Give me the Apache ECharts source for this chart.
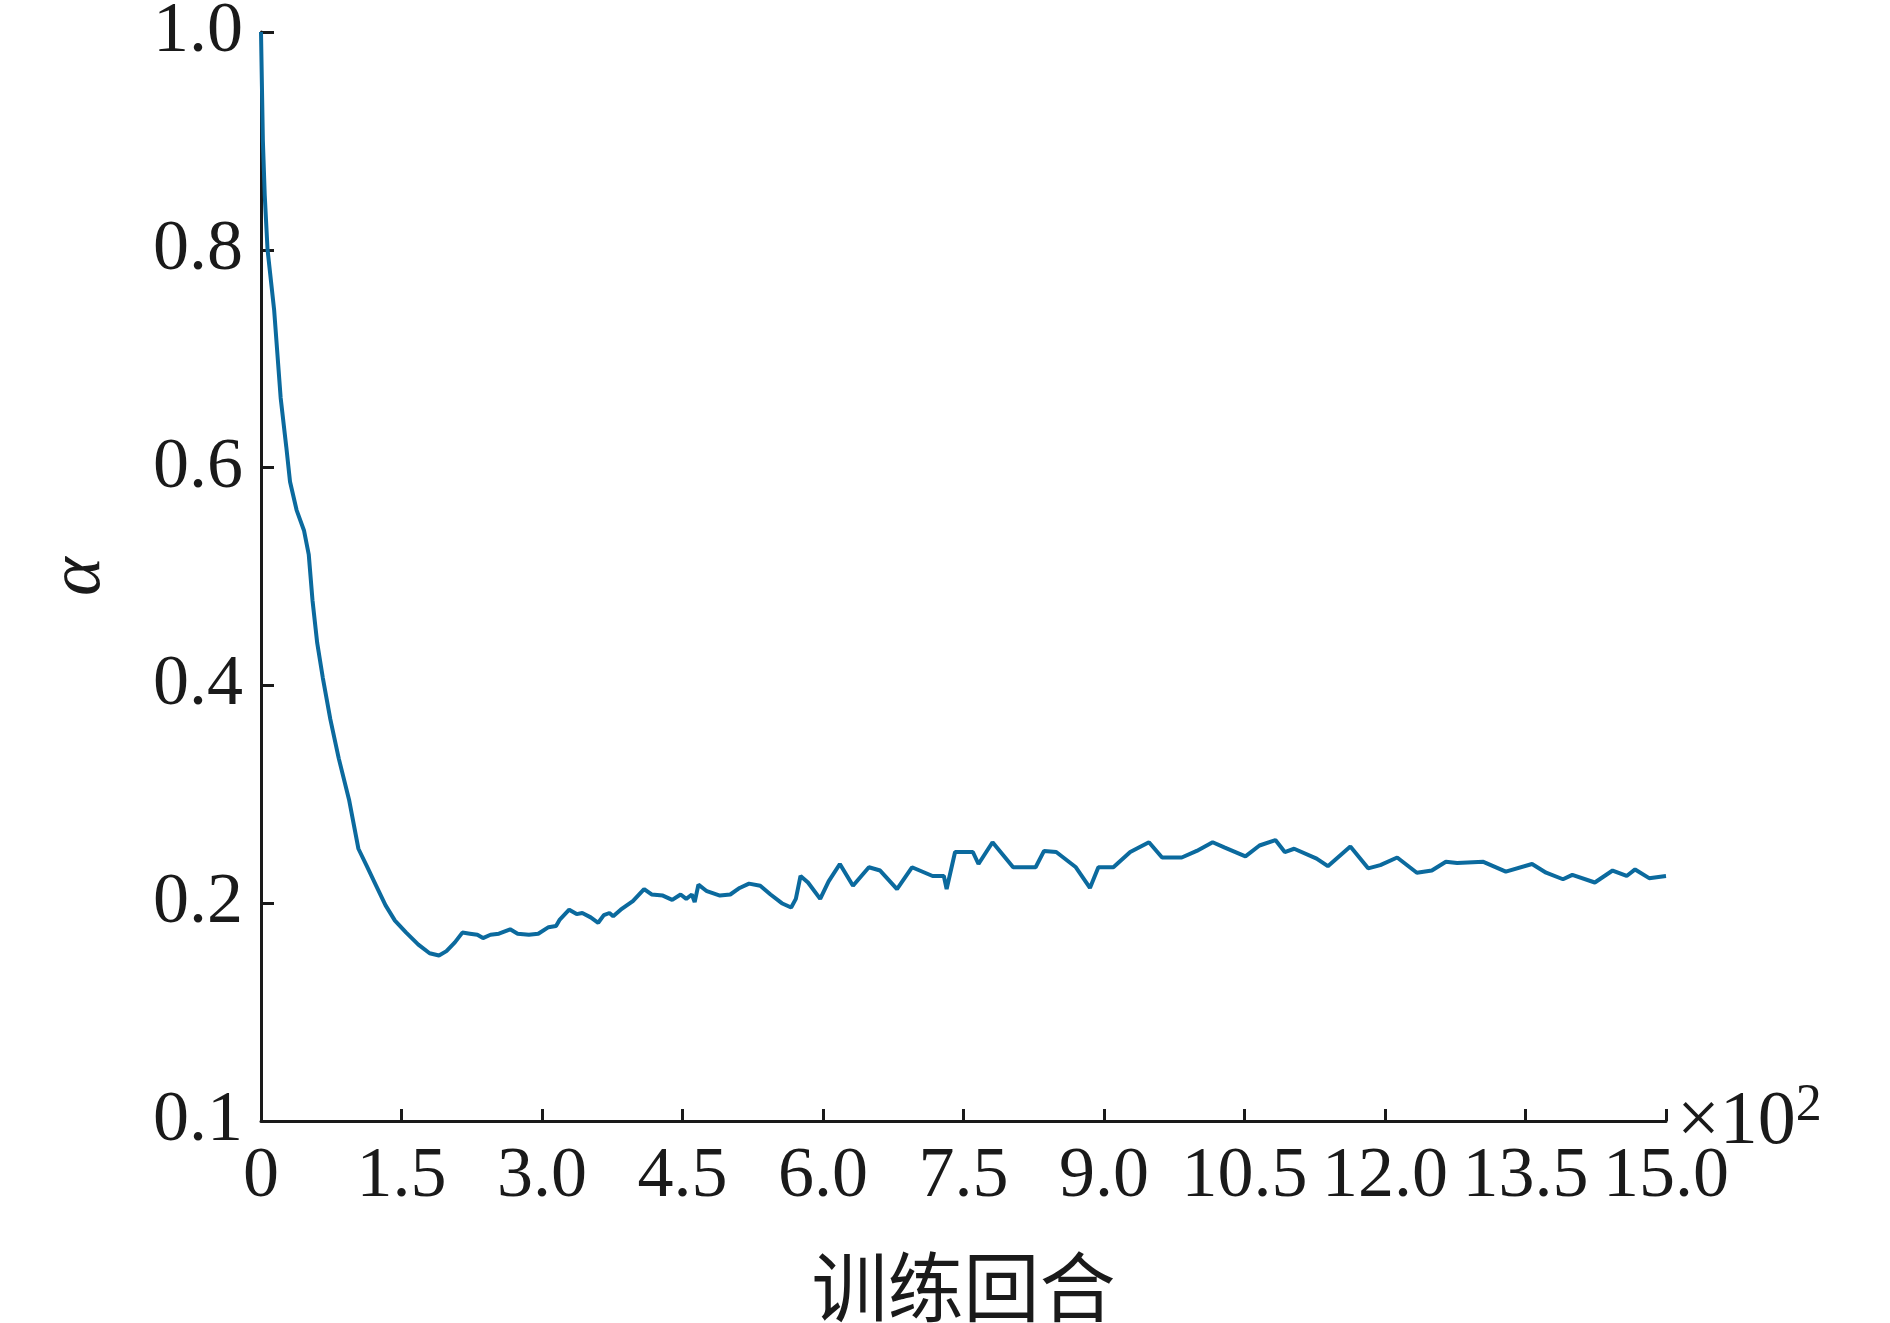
<!DOCTYPE html>
<html>
<head>
<meta charset="utf-8">
<script src="https://cdn.jsdelivr.net/npm/echarts@6/dist/echarts.min.js"></script>
<style>html,body{margin:0;padding:0;background:#fff;}#c{width:1890px;height:1323px;}</style>
</head>
<body>
<div id="c"></div>
<script>
// training episodes (×10^2)
const episodes = [0,0.01,0.02,0.04,0.07,0.14,0.21,0.27,0.31,0.38,0.46,0.51,0.55,0.60,0.66,0.74,0.83,0.94,
1.04,1.13,1.23,1.33,1.43,1.55,1.68,1.80,1.90,1.98,2.07,2.15,2.23,2.31,2.37,2.45,2.54,2.66,2.74,2.86,2.96,
3.07,3.15,3.19,3.29,3.37,3.43,3.52,3.60,3.66,3.72,3.76,3.84,3.97,4.09,4.17,4.29,4.39,4.48,4.54,4.60,4.63,4.67,
4.76,4.90,5.01,5.11,5.21,5.33,5.44,5.56,5.66,5.71,5.76,5.84,5.97,6.06,6.18,6.32,6.49,6.61,6.79,6.95,7.17,7.29,7.32,
7.41,7.60,7.66,7.81,8.03,8.27,8.36,8.49,8.70,8.85,8.94,9.10,9.28,9.48,9.62,9.83,9.99,10.16,10.29,10.51,10.66,
10.83,10.93,11.03,11.27,11.39,11.63,11.82,11.95,12.13,12.34,12.50,12.65,12.77,13.05,13.29,13.57,13.72,13.90,
14.00,14.24,14.43,14.58,14.67,14.82,15.0];
// alpha values
const alphaValues = [1.0,0.95,0.90,0.85,0.80,0.745,0.664,0.619,0.587,0.561,0.542,0.520,0.478,0.439,0.407,0.369,0.333,0.295,
0.250,0.234,0.216,0.198,0.184,0.173,0.162,0.154,0.152,0.156,0.164,0.173,0.172,0.171,0.168,0.171,0.172,0.176,0.172,0.171,0.172,
0.178,0.179,0.185,0.194,0.190,0.191,0.187,0.182,0.189,0.191,0.188,0.194,0.202,0.213,0.208,0.207,0.203,0.208,0.204,0.208,0.201,0.217,
0.211,0.207,0.208,0.214,0.218,0.216,0.208,0.200,0.196,0.204,0.225,0.219,0.204,0.220,0.236,0.216,0.233,0.230,0.213,0.233,0.225,0.225,0.213,
0.247,0.247,0.236,0.256,0.233,0.233,0.248,0.247,0.233,0.214,0.233,0.233,0.247,0.256,0.242,0.242,0.248,0.256,0.251,0.243,0.253,
0.258,0.247,0.250,0.241,0.234,0.252,0.232,0.235,0.242,0.228,0.230,0.238,0.237,0.238,0.229,0.236,0.228,0.222,
0.226,0.219,0.230,0.225,0.231,0.223,0.225];
// tick labels
const xTickValues = [0,1.5,3.0,4.5,6.0,7.5,9.0,10.5,12.0,13.5,15.0];
const xTickLabels = ['0','1.5','3.0','4.5','6.0','7.5','9.0','10.5','12.0','13.5','15.0'];
const yTickValues = [0,0.2,0.4,0.6,0.8,1.0];
const yTickLabels = ['0.1','0.2','0.4','0.6','0.8','1.0'];
const xName = '训练回合';
const yName = 'α';
const xUnit = '×10';
const xUnitExp = '2';

const data = episodes.map((e,i)=>[e, alphaValues[i]]);
const serif = '"Liberation Serif","Times New Roman",serif';
function lookup(vals, labels, v){
  for (let i=0;i<vals.length;i++){ if (Math.abs(vals[i]-v)<1e-6) return labels[i]; }
  return '';
}
const chart = echarts.init(document.getElementById('c'), null, {renderer:'canvas'});
chart.setOption({
  backgroundColor:'#ffffff',
  animation:false,
  grid:{left:261, right:224, top:32, bottom:202, containLabel:false, outerBoundsMode:'none'},
  xAxis:{
    type:'value', min:0, max:15, interval:1.5,
    name:xName, nameLocation:'middle', nameGap:128,
    nameTextStyle:{fontFamily:'"Noto Sans CJK SC",sans-serif', fontSize:76, color:'#1a1a1a'},
    axisLine:{show:true, onZero:false, lineStyle:{color:'#1a1a1a', width:3}},
    axisTick:{show:true, inside:true, length:12, lineStyle:{color:'#1a1a1a', width:3}},
    axisLabel:{fontFamily:serif, fontSize:72, color:'#1a1a1a', margin:20,
      formatter:v=>lookup(xTickValues,xTickLabels,v)},
    splitLine:{show:false}
  },
  yAxis:{
    type:'value', min:0, max:1, interval:0.2,
    name:yName, nameLocation:'middle', nameGap:144, nameRotate:90,
    nameTextStyle:{fontFamily:serif, fontStyle:'italic', fontSize:74, color:'#1a1a1a'},
    axisLine:{show:true, onZero:false, lineStyle:{color:'#1a1a1a', width:3}},
    axisTick:{show:true, inside:true, length:13, lineStyle:{color:'#1a1a1a', width:3}},
    axisLabel:{fontFamily:serif, fontSize:72, color:'#1a1a1a', margin:18,
      formatter:v=>lookup(yTickValues,yTickLabels,v)},
    splitLine:{show:false}
  },
  graphic:[{
    type:'text', left:1677, top:1080,
    style:{text:xUnit+'{sup|'+xUnitExp+'}', fontFamily:serif, fontSize:76, fill:'#1a1a1a',
      rich:{sup:{fontFamily:serif, fontSize:52, verticalAlign:'top', padding:[0,0,34,0], fill:'#1a1a1a'}}}
  }],
  series:[{
    type:'line', data:data, showSymbol:false, symbol:'none', clip:false,
    lineStyle:{color:'#0b6a9e', width:4}
  }]
});
</script>
</body>
</html>
